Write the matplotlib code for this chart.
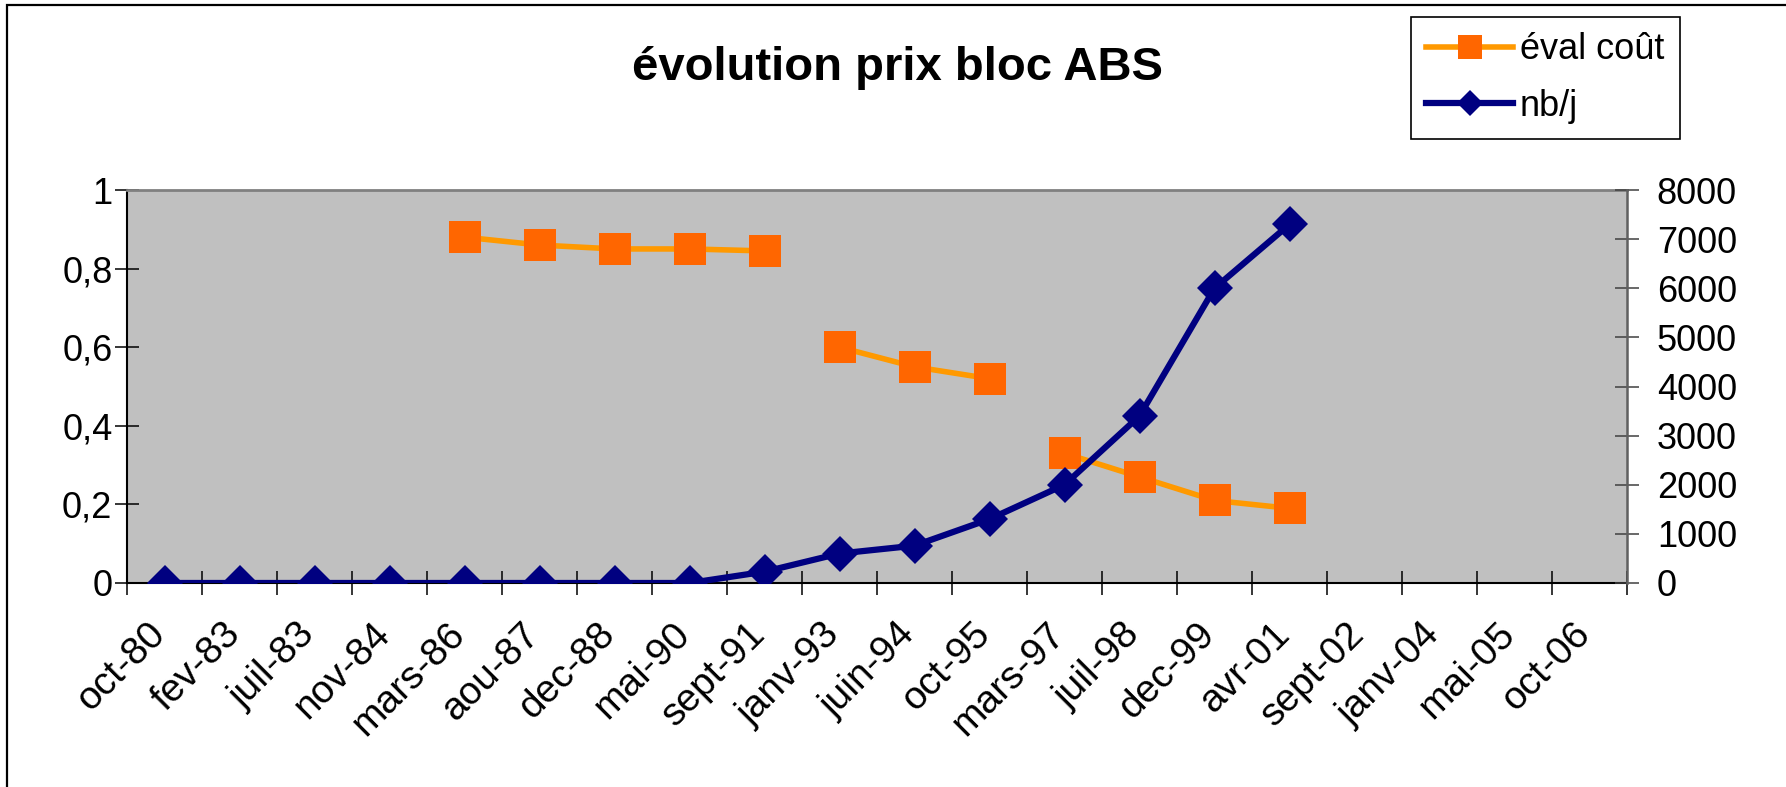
import matplotlib
matplotlib.use("Agg")
import matplotlib.pyplot as plt
import numpy as np
from matplotlib.patches import Rectangle
from matplotlib.transforms import ScaledTranslation

plt.rcParams['font.family'] = ['Liberation Sans', 'DejaVu Sans']

# ---- data ----
categories = ["oct-80", "fev-83", "juil-83", "nov-84", "mars-86", "aou-87", "dec-88",
              "mai-90", "sept-91", "janv-93", "juin-94", "oct-95", "mars-97", "juil-98",
              "dec-99", "avr-01", "sept-02", "janv-04", "mai-05", "oct-06"]
eval_cout = [None, None, None, None, 0.88, 0.86, 0.85, 0.85, 0.845, 0.60, 0.55, 0.52,
             0.33, 0.27, 0.21, 0.19, None, None, None, None]
eval_segments = [(4, 9), (9, 12), (12, 16)]   # line is broken between these groups
nb_j = [0, 0, 0, 0, 0, 0, 0, 0, 230, 600, 760, 1300, 2000, 3400, 6000, 7300,
        None, None, None, None]
left_ticks = [0, 0.2, 0.4, 0.6, 0.8, 1]
left_ticklabels = ["0", "0,2", "0,4", "0,6", "0,8", "1"]
right_ticks = [0, 1000, 2000, 3000, 4000, 5000, 6000, 7000, 8000]
title = "évolution prix bloc ABS"
label_eval = "éval coût"
label_nb = "nb/j"

W, H = 1786, 787
fig = plt.figure(figsize=(W / 100, H / 100), dpi=100)
fig.patch.set_facecolor("white")

ax = fig.add_axes([127 / W, 1 - 583 / H, 1500 / W, 393 / H])
ax.set_facecolor("#C0C0C0")
ax2 = ax.twinx()

x = np.arange(len(categories))

orange_line = "#FF9900"
orange_mark = "#FF6600"
navy = "#000080"

ev = np.array([np.nan if v is None else v for v in eval_cout], dtype=float)
h_eval = None
for a, b in eval_segments:
    ln, = ax.plot(x[a:b], ev[a:b], color=orange_line, lw=4, marker="s", ms=22.5,
                  mfc=orange_mark, mec=orange_mark, mew=0, zorder=3)
    h_eval = ln

nb = np.array([np.nan if v is None else v for v in nb_j], dtype=float)
h_nb, = ax2.plot(x, nb, color=navy, lw=4.5, marker="D", ms=18, mfc=navy, mec=navy,
                 mew=0, zorder=3)

ax.set_xlim(-0.5, len(categories) - 0.5)
ax.set_ylim(0, 1)
ax2.set_ylim(0, 8000)

ax.set_yticks(left_ticks)
ax.set_yticklabels(left_ticklabels)
ax2.set_yticks(right_ticks)
ax2.set_yticklabels([str(v) for v in right_ticks])

# x ticks at category boundaries, labels at centres
ax.set_xticks(np.arange(-0.5, len(categories) + 0.5, 1.0))
ax.set_xticklabels([])
ax.set_xticks(x, minor=True)
ax.set_xticklabels(categories, minor=True)
ax.tick_params(axis="x", which="major", direction="inout", length=17, width=1.1, color="black")
ax.tick_params(axis="x", which="minor", length=0, pad=33, labelsize=28)
off = ScaledTranslation(-5 / 100, 0, fig.dpi_scale_trans)
for lbl in ax.get_xticklabels(minor=True):
    lbl.set_rotation(45)
    lbl.set_ha("right")
    lbl.set_va("center")
    lbl.set_rotation_mode("anchor")
    lbl.set_transform(lbl.get_transform() + off)

ax.tick_params(axis="y", direction="inout", length=17, width=1.1, color="black",
               labelsize=26, pad=2)
ax2.tick_params(axis="y", direction="inout", length=17, width=1.1, color="#404040",
                labelsize=26, pad=13)

for s in ["left", "bottom"]:
    ax.spines[s].set_color("black")
    ax.spines[s].set_linewidth(1.5)
ax.spines["top"].set_color("#808080")
ax.spines["top"].set_linewidth(2)
ax.spines["right"].set_visible(False)
ax2.spines["top"].set_visible(False)
ax2.spines["left"].set_visible(False)
ax2.spines["bottom"].set_visible(False)
ax2.spines["right"].set_color("#606060")
ax2.spines["right"].set_linewidth(1.8)

fig.text(897 / W, 1 - 80 / H, title, ha="center", va="baseline", fontsize=34,
         fontweight="bold")

leg = fig.legend([h_eval, h_nb], [label_eval, label_nb], loc="upper left",
                 bbox_to_anchor=(1411 / W, 1 - 17 / H), borderaxespad=0,
                 frameon=True, fancybox=False, edgecolor="black", fontsize=26,
                 handlelength=2.4, handletextpad=0.2, borderpad=0.42,
                 labelspacing=0.6, markerscale=0.75)
leg.get_frame().set_linewidth(1.2)
leg.get_frame().set_facecolor("white")
leg.get_frame().set_alpha(1)

# outer chart border (top & left visible)
fig.add_artist(Rectangle((6.5 / W, -0.1), 1.2, (1 - 4.5 / H) + 0.1,
                         transform=fig.transFigure, fill=False, lw=1.6,
                         ec="black", clip_on=False))

fig.savefig("out.png", dpi=100)
